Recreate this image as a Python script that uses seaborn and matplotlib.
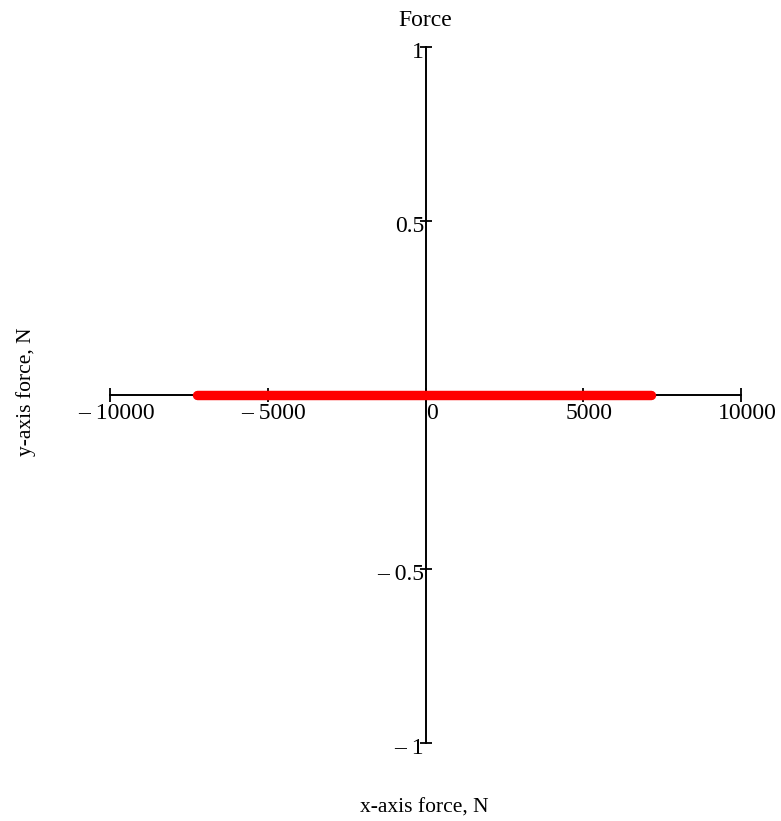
import matplotlib
matplotlib.use("Agg")
import matplotlib.pyplot as plt
import matplotlib.transforms as mtransforms
import seaborn as sns
import pandas as pd

# Data
force_x = [-7230, 7160]
force_y = [0, 0]
x_ticks = [-10000, -5000, 0, 5000, 10000]
x_tick_labels = ["\u2013 10000", "\u2013 5000", "0", "5000", "10000"]
y_ticks = [-1, -0.5, 0.5, 1]
y_tick_labels = ["\u2013 1", "\u2013 0.5", "0.5", "1"]
title = "Force"
x_label = "x-axis force, N"
y_label = "y-axis force, N"

sns.set_style("white")
plt.rcParams["font.family"] = ["Liberation Serif", "DejaVu Serif"]
plt.rcParams["text.color"] = "black"

fig = plt.figure(figsize=(7.81, 8.21), dpi=100)
ax = fig.add_axes([110 / 781, (821 - 743) / 821, 631 / 781, 696 / 821])

df = pd.DataFrame({"fx": force_x, "fy": force_y})
sns.lineplot(data=df, x="fx", y="fy", ax=ax, color="#ff0000", linewidth=6.8,
             solid_capstyle="round", sort=False, estimator=None)

ax.set_xlim(-10000, 10000)
ax.set_ylim(-1, 1)
ax.set_xlabel("")
ax.set_ylabel("")

for s in ["top", "right"]:
    ax.spines[s].set_visible(False)
ax.spines["left"].set_position("zero")
ax.spines["bottom"].set_position("zero")
for s in ["left", "bottom"]:
    ax.spines[s].set_color("black")
    ax.spines[s].set_linewidth(1.4)
    ax.spines[s].set_zorder(1)

fs = 17
ax.set_xticks(x_ticks)
ax.set_xticklabels(x_tick_labels)
ax.set_yticks(y_ticks)
ax.set_yticklabels(y_tick_labels)
ax.tick_params(axis="x", direction="inout", length=10, width=1.3, pad=1,
               labelsize=fs, colors="black", bottom=True)
ax.tick_params(axis="y", direction="inout", length=8, width=1.3, pad=-3,
               labelsize=fs, colors="black", left=True)

# Mathcad-style label offsets
for lbl in ax.get_xticklabels():
    lbl.set_transform(lbl.get_transform() +
                      mtransforms.ScaledTranslation(6 / 100, 0, fig.dpi_scale_trans))
for lbl in ax.get_yticklabels():
    lbl.set_transform(lbl.get_transform() +
                      mtransforms.ScaledTranslation(0, -3 / 100, fig.dpi_scale_trans))

ax.grid(False)
ax.set_facecolor("white")
fig.patch.set_facecolor("white")

fig.text(425.5 / 781, 1 - 21 / 821, title, ha="center", va="center",
         fontsize=fs, color="black")
fig.text(424.5 / 781, 1 - 808 / 821, x_label, ha="center", va="center",
         fontsize=15.5, color="black")
fig.text(26 / 781, 1 - 392 / 821, y_label, ha="center", va="center",
         rotation=90, fontsize=15.5, color="black")

fig.savefig("out.png", dpi=100)
